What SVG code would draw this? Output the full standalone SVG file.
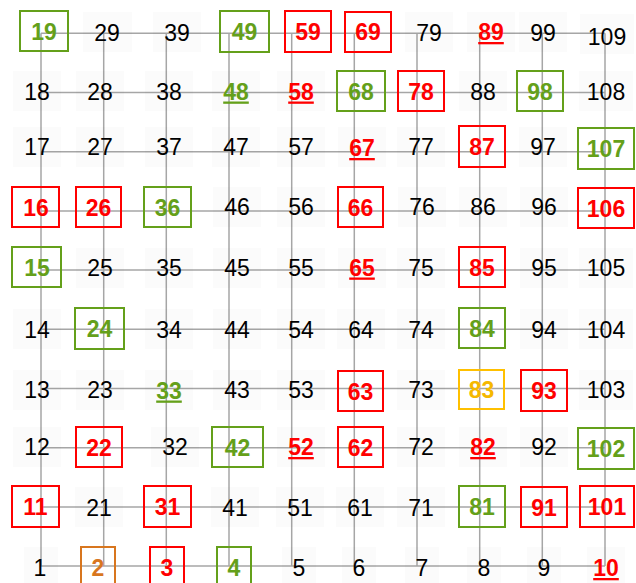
<svg xmlns="http://www.w3.org/2000/svg" width="636" height="583" viewBox="0 0 636 583">
<style>
text{font-family:"Liberation Sans",Arial,sans-serif;font-size:23px;text-anchor:middle;fill:#000}
.bg{fill:#000;fill-opacity:0.014;stroke:none}
.b{fill:none;stroke-width:2}
.r{stroke:#ff0000}.g{stroke:#64a01a}.o{stroke:#d8761e}.y{stroke:#ffc000}
text.tr{fill:#ff0000;font-weight:bold}
text.tg{fill:#64a01a;font-weight:bold}
text.to{fill:#d8761e;font-weight:bold}
text.ty{fill:#f5b800;font-weight:bold}
.u{text-decoration:underline}
.ln{fill:none;stroke:#a6a6a6;stroke-width:1.5}
</style>
<rect width="636" height="583" fill="#fff"/>
<g id="connectors" class="ln">
<path d="M41 33.3H605M41 92.5H605M41 151.7H605M41 210.9H605M41 270.1H605M41 329.3H605M41 388.5H605M41 447.7H605M41 506.9H605M41 566.1H605"/>
<path d="M41 33.3V566M103.7 33.3V566M166.3 33.3V566M229 33.3V566M291.7 33.3V566M354.3 33.3V566M417 33.3V566M479.7 33.3V566M542.3 33.3V566M605 33.3V566"/>
</g>
<!-- row 19 -->
<g id="n19"><rect class="b g" x="20" y="11" width="48" height="40"/><text class="tg" x="44" y="39.5">19</text></g>
<g id="n29"><rect class="bg" x="83" y="12" width="49" height="40"/><text x="107" y="41">29</text></g>
<g id="n39"><rect class="bg" x="153" y="12" width="48" height="40"/><text x="177" y="41">39</text></g>
<g id="n49"><rect class="b g" x="220" y="11" width="49" height="41"/><text class="tg" x="244.5" y="40">49</text></g>
<g id="n59"><rect class="b r" x="285" y="11" width="46" height="41"/><text class="tr" x="308" y="40">59</text></g>
<g id="n69"><rect class="b r" x="345" y="12" width="46" height="40"/><text class="tr" x="368" y="40">69</text></g>
<g id="n79"><rect class="bg" x="405" y="12" width="48" height="40"/><text x="429" y="41">79</text></g>
<g id="n89"><rect class="bg" x="467" y="12" width="48" height="40"/><text class="tr u" x="491" y="40">89</text></g>
<g id="n99"><rect class="bg" x="519" y="12" width="48" height="40"/><text x="543" y="41">99</text></g>
<g id="n109"><rect class="bg" x="580" y="14" width="54" height="40"/><text x="607" y="44.5">109</text></g>
<!-- row 18 -->
<g id="n18"><rect class="bg" x="13" y="71" width="48" height="40"/><text x="37" y="100">18</text></g>
<g id="n28"><rect class="bg" x="76" y="71" width="48" height="40"/><text x="100" y="100">28</text></g>
<g id="n38"><rect class="bg" x="145" y="71" width="48" height="40"/><text x="169" y="100">38</text></g>
<g id="n48"><rect class="bg" x="212" y="71" width="48" height="40"/><text class="tg u" x="236" y="99.5">48</text></g>
<g id="n58"><rect class="bg" x="277" y="71" width="48" height="40"/><text class="tr u" x="301" y="99.5">58</text></g>
<g id="n68"><rect class="b g" x="337" y="71" width="48" height="40"/><text class="tg" x="361" y="99.5">68</text></g>
<g id="n78"><rect class="b r" x="398" y="71" width="46" height="40"/><text class="tr" x="421" y="99.5">78</text></g>
<g id="n88"><rect class="bg" x="459" y="71" width="48" height="40"/><text x="483" y="100">88</text></g>
<g id="n98"><rect class="b g" x="517" y="71" width="46" height="40"/><text class="tg" x="540" y="99.5">98</text></g>
<g id="n108"><rect class="bg" x="579" y="71" width="54" height="40"/><text x="606" y="100">108</text></g>
<!-- row 17 -->
<g id="n17"><rect class="bg" x="13" y="127" width="48" height="40"/><text x="37" y="155">17</text></g>
<g id="n27"><rect class="bg" x="76" y="127" width="48" height="40"/><text x="100" y="155">27</text></g>
<g id="n37"><rect class="bg" x="145" y="127" width="48" height="40"/><text x="169" y="155">37</text></g>
<g id="n47"><rect class="bg" x="212" y="127" width="48" height="40"/><text x="236" y="155">47</text></g>
<g id="n57"><rect class="bg" x="277" y="127" width="48" height="40"/><text x="301" y="155">57</text></g>
<g id="n67"><rect class="bg" x="338" y="127" width="48" height="40"/><text class="tr u" x="362" y="156">67</text></g>
<g id="n77"><rect class="bg" x="397" y="127" width="48" height="40"/><text x="421" y="155">77</text></g>
<g id="n87"><rect class="b r" x="459" y="126" width="46" height="41"/><text class="tr" x="482" y="154.5">87</text></g>
<g id="n97"><rect class="bg" x="519" y="127" width="48" height="40"/><text x="543" y="155">97</text></g>
<g id="n107"><rect class="b g" x="578" y="128" width="56" height="41"/><text class="tg" x="606" y="157">107</text></g>
<!-- row 16 -->
<g id="n16"><rect class="b r" x="12" y="187" width="47" height="40"/><text class="tr" x="36" y="215.5">16</text></g>
<g id="n26"><rect class="b r" x="76" y="187" width="45" height="40"/><text class="tr" x="98.5" y="215.5">26</text></g>
<g id="n36"><rect class="b g" x="144" y="187" width="47" height="40"/><text class="tg" x="167.5" y="215.5">36</text></g>
<g id="n46"><rect class="bg" x="213" y="187" width="48" height="40"/><text x="237" y="215">46</text></g>
<g id="n56"><rect class="bg" x="277" y="187" width="48" height="40"/><text x="301" y="215">56</text></g>
<g id="n66"><rect class="b r" x="338" y="187" width="45" height="40"/><text class="tr" x="360.5" y="215.5">66</text></g>
<g id="n76"><rect class="bg" x="398" y="187" width="48" height="40"/><text x="422" y="215">76</text></g>
<g id="n86"><rect class="bg" x="459" y="187" width="48" height="40"/><text x="483" y="215">86</text></g>
<g id="n96"><rect class="bg" x="520" y="187" width="48" height="40"/><text x="544" y="215">96</text></g>
<g id="n106"><rect class="b r" x="578" y="188" width="56" height="40"/><text class="tr" x="606" y="216.5">106</text></g>
<!-- row 15 -->
<g id="n15"><rect class="b g" x="12" y="247" width="49" height="40"/><text class="tg" x="37" y="275.5">15</text></g>
<g id="n25"><rect class="bg" x="76" y="248" width="48" height="40"/><text x="100" y="276">25</text></g>
<g id="n35"><rect class="bg" x="145" y="248" width="48" height="40"/><text x="169" y="276">35</text></g>
<g id="n45"><rect class="bg" x="213" y="248" width="48" height="40"/><text x="237" y="276">45</text></g>
<g id="n55"><rect class="bg" x="277" y="248" width="48" height="40"/><text x="301" y="276">55</text></g>
<g id="n65"><rect class="bg" x="338" y="248" width="48" height="40"/><text class="tr u" x="362" y="275.5">65</text></g>
<g id="n75"><rect class="bg" x="397" y="248" width="48" height="40"/><text x="421" y="276">75</text></g>
<g id="n85"><rect class="b r" x="459" y="247" width="46" height="40"/><text class="tr" x="482" y="275.5">85</text></g>
<g id="n95"><rect class="bg" x="520" y="248" width="48" height="40"/><text x="544" y="276">95</text></g>
<g id="n105"><rect class="bg" x="579" y="248" width="54" height="40"/><text x="606" y="276">105</text></g>
<!-- row 14 -->
<g id="n14"><rect class="bg" x="13" y="309" width="48" height="40"/><text x="37" y="338">14</text></g>
<g id="n24"><rect class="b g" x="75" y="308" width="49" height="41"/><text class="tg" x="99.5" y="337">24</text></g>
<g id="n34"><rect class="bg" x="145" y="309" width="48" height="40"/><text x="169" y="338">34</text></g>
<g id="n44"><rect class="bg" x="213" y="309" width="48" height="40"/><text x="237" y="338">44</text></g>
<g id="n54"><rect class="bg" x="277" y="309" width="48" height="40"/><text x="301" y="338">54</text></g>
<g id="n64"><rect class="bg" x="337" y="309" width="48" height="40"/><text x="361" y="338">64</text></g>
<g id="n74"><rect class="bg" x="397" y="309" width="48" height="40"/><text x="421" y="338">74</text></g>
<g id="n84"><rect class="b g" x="459" y="308" width="46" height="40"/><text class="tg" x="482" y="336.5">84</text></g>
<g id="n94"><rect class="bg" x="520" y="309" width="48" height="40"/><text x="544" y="338">94</text></g>
<g id="n104"><rect class="bg" x="579" y="309" width="54" height="40"/><text x="606" y="338">104</text></g>
<!-- row 13 -->
<g id="n13"><rect class="bg" x="13" y="370" width="48" height="40"/><text x="37" y="398">13</text></g>
<g id="n23"><rect class="bg" x="76" y="370" width="48" height="40"/><text x="100" y="398">23</text></g>
<g id="n33"><rect class="bg" x="145" y="370" width="48" height="40"/><text class="tg u" x="169" y="398.5">33</text></g>
<g id="n43"><rect class="bg" x="213" y="370" width="48" height="40"/><text x="237" y="398">43</text></g>
<g id="n53"><rect class="bg" x="277" y="370" width="48" height="40"/><text x="301" y="398">53</text></g>
<g id="n63"><rect class="b r" x="338" y="371" width="45" height="40"/><text class="tr" x="360.5" y="399.5">63</text></g>
<g id="n73"><rect class="bg" x="397" y="370" width="48" height="40"/><text x="421" y="398">73</text></g>
<g id="n83"><rect class="b y" x="459" y="370" width="45" height="39"/><text class="ty" x="481.5" y="398">83</text></g>
<g id="n93"><rect class="b r" x="521" y="370" width="46" height="41"/><text class="tr" x="544" y="399">93</text></g>
<g id="n103"><rect class="bg" x="579" y="370" width="54" height="40"/><text x="606" y="398">103</text></g>
<!-- row 12 -->
<g id="n12"><rect class="bg" x="13" y="427" width="48" height="40"/><text x="37" y="455">12</text></g>
<g id="n22"><rect class="b r" x="76" y="427" width="46" height="40"/><text class="tr" x="99" y="455.5">22</text></g>
<g id="n32"><rect class="bg" x="151" y="427" width="48" height="40"/><text x="175" y="455">32</text></g>
<g id="n42"><rect class="b g" x="212" y="427" width="51" height="40"/><text class="tg" x="237.5" y="455.5">42</text></g>
<g id="n52"><rect class="bg" x="277" y="427" width="48" height="40"/><text class="tr u" x="301" y="455">52</text></g>
<g id="n62"><rect class="b r" x="338" y="427" width="45" height="40"/><text class="tr" x="360.5" y="455.5">62</text></g>
<g id="n72"><rect class="bg" x="397" y="427" width="48" height="40"/><text x="421" y="455">72</text></g>
<g id="n82"><rect class="bg" x="459" y="427" width="48" height="40"/><text class="tr u" x="483" y="455">82</text></g>
<g id="n92"><rect class="bg" x="520" y="427" width="48" height="40"/><text x="544" y="455">92</text></g>
<g id="n102"><rect class="b g" x="578" y="428" width="56" height="41"/><text class="tg" x="606" y="457">102</text></g>
<!-- row 11 -->
<g id="n11"><rect class="b r" x="12" y="486" width="47" height="41"/><text class="tr" x="35.5" y="515">11</text></g>
<g id="n21"><rect class="bg" x="75" y="487" width="48" height="40"/><text x="99" y="516">21</text></g>
<g id="n31"><rect class="b r" x="144" y="486" width="47" height="41"/><text class="tr" x="167.5" y="515">31</text></g>
<g id="n41"><rect class="bg" x="211" y="487" width="48" height="40"/><text x="235" y="516">41</text></g>
<g id="n51"><rect class="bg" x="276" y="487" width="48" height="40"/><text x="300" y="516">51</text></g>
<g id="n61"><rect class="bg" x="336" y="487" width="48" height="40"/><text x="360" y="516">61</text></g>
<g id="n71"><rect class="bg" x="397" y="487" width="48" height="40"/><text x="421" y="516">71</text></g>
<g id="n81"><rect class="b g" x="459" y="486" width="46" height="41"/><text class="tg" x="482" y="515">81</text></g>
<g id="n91"><rect class="b r" x="521" y="487" width="46" height="40"/><text class="tr" x="544" y="515.5">91</text></g>
<g id="n101"><rect class="b r" x="580" y="486" width="54" height="41"/><text class="tr" x="607" y="515">101</text></g>
<!-- row 1 -->
<g id="n1"><rect class="bg" x="24" y="547" width="34" height="40"/><text x="40" y="576">1</text></g>
<g id="n2"><rect class="b o" x="81" y="547" width="34" height="40"/><text class="to" x="98" y="575.5">2</text></g>
<g id="n3"><rect class="b r" x="150" y="547" width="34" height="40"/><text class="tr" x="167" y="575.5">3</text></g>
<g id="n4"><rect class="b g" x="217" y="547" width="34" height="40"/><text class="tg" x="234" y="575.5">4</text></g>
<g id="n5"><rect class="bg" x="282" y="547" width="34" height="40"/><text x="299" y="576">5</text></g>
<g id="n6"><rect class="bg" x="342" y="547" width="34" height="40"/><text x="359" y="576">6</text></g>
<g id="n7"><rect class="bg" x="405" y="547" width="34" height="40"/><text x="422" y="576">7</text></g>
<g id="n8"><rect class="bg" x="467" y="547" width="34" height="40"/><text x="484" y="576">8</text></g>
<g id="n9"><rect class="bg" x="527" y="547" width="34" height="40"/><text x="544" y="576">9</text></g>
<g id="n10"><rect class="bg" x="587" y="547" width="38" height="40"/><text class="tr u" x="606" y="576">10</text></g>
</svg>
